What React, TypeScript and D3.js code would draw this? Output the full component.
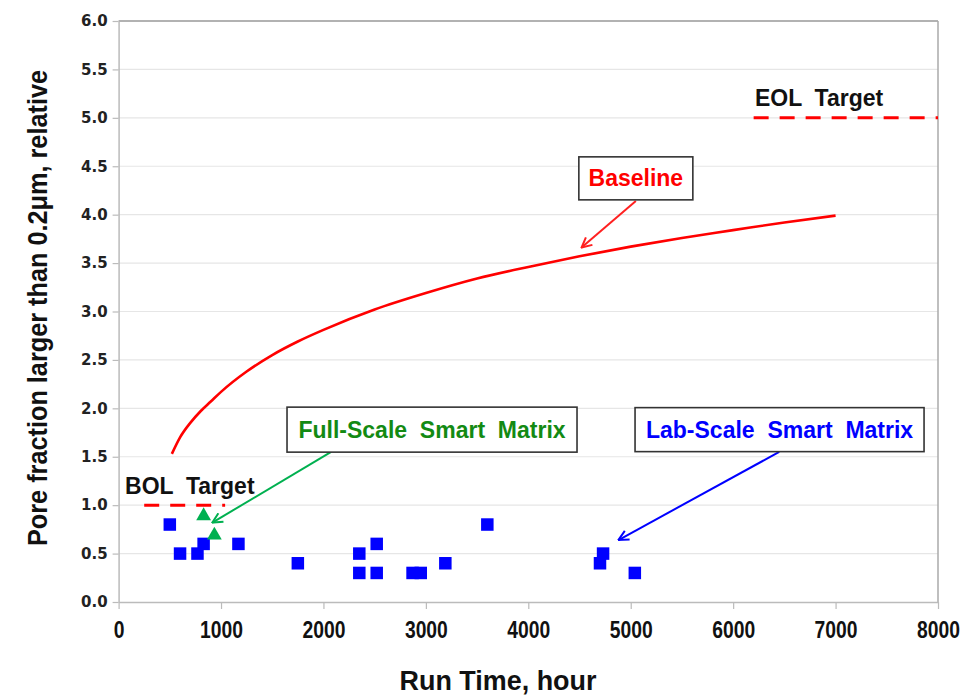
import React, { useEffect, useRef } from "react";
import * as d3 from "d3";

const baselineHours = [520, 600, 700, 800, 900, 1000, 1250, 1500, 1750, 2000, 2500, 3000, 3500, 4000, 4500, 5000, 5500, 6000, 6500, 7000];
const baselineValues = [1.53, 1.7, 1.85, 1.97, 2.07, 2.17, 2.38, 2.55, 2.69, 2.81, 3.02, 3.19, 3.34, 3.46, 3.57, 3.67, 3.76, 3.84, 3.92, 3.99];

const labHours = [500, 600, 770, 830, 1170, 1750, 2350, 2350, 2520, 2520, 2870, 2950, 3190, 3600, 4700, 4730, 5040];
const labValues = [0.8, 0.5, 0.5, 0.6, 0.6, 0.4, 0.5, 0.3, 0.6, 0.3, 0.3, 0.3, 0.4, 0.8, 0.4, 0.5, 0.3];

const fullHours = [830, 935];
const fullValues = [0.9, 0.7];

const bolTarget = { from: 250, to: 1040, value: 1.0 };
const eolTarget = { from: 6200, to: 8000, value: 5.0 };

const xTicks = [0, 1000, 2000, 3000, 4000, 5000, 6000, 7000, 8000];
const yTicks = [0, 0.5, 1, 1.5, 2, 2.5, 3, 3.5, 4, 4.5, 5, 5.5, 6];

// callouts: box centre and arrow in data units
const callouts = [
  { text: "Baseline", color: "#ff0000", arrow: "#ff2020", cx: 5050, cy: 4.375, w: 114, h: 43, ax: 5050, ay: 4.14, tx: 4520, ty: 3.66 },
  { text: "Full-Scale  Smart  Matrix", color: "#138a13", arrow: "#00b050", cx: 3060, cy: 1.78, w: 290, h: 45, ax: 2075, ay: 1.55, tx: 915, ty: 0.82 },
  { text: "Lab-Scale  Smart  Matrix", color: "#0000ff", arrow: "#0000ff", cx: 6453, cy: 1.78, w: 289, h: 44, ax: 6450, ay: 1.55, tx: 4880, ty: 0.64 },
];

const targetLabels = [
  { text: "EOL  Target", x: 6213, y: 5.12 },
  { text: "BOL  Target", x: 63, y: 1.12 },
];

export default function App() {
  const ref = useRef<SVGSVGElement>(null);

  useEffect(() => {
    const svg = d3.select(ref.current);
    svg.selectAll("*").remove();

    const x = d3.scaleLinear().domain([0, 8000]).range([118.6, 938]);
    const y = d3.scaleLinear().domain([0, 6]).range([602, 21]);

    const defs = svg.append("defs");
    callouts.forEach((c, i) => {
      defs
        .append("marker")
        .attr("id", "arr" + i)
        .attr("viewBox", "0 0 12 12")
        .attr("refX", 11)
        .attr("refY", 6)
        .attr("markerWidth", 12)
        .attr("markerHeight", 12)
        .attr("markerUnits", "userSpaceOnUse")
        .attr("orient", "auto")
        .append("path")
        .attr("d", "M1,1 L11,6 L1,11")
        .attr("fill", "none")
        .attr("stroke", c.arrow)
        .attr("stroke-width", 2);
    });

    // grid
    svg
      .append("g")
      .selectAll("line")
      .data(yTicks.filter(t => t > 0 && t < 6))
      .join("line")
      .attr("x1", x(0))
      .attr("x2", x(8000))
      .attr("y1", d => y(d))
      .attr("y2", d => y(d))
      .attr("stroke", "#e6e6e6")
      .attr("stroke-width", 1.2);

    // frame
    svg.append("line").attr("x1", x(0)).attr("x2", x(8000)).attr("y1", y(6)).attr("y2", y(6)).attr("stroke", "#999").attr("stroke-width", 1.5);
    svg.append("line").attr("x1", x(8000)).attr("x2", x(8000)).attr("y1", y(6)).attr("y2", y(0)).attr("stroke", "#aaa").attr("stroke-width", 1.5);

    // y axis
    const yAxis = svg
      .append("g")
      .attr("transform", `translate(${x(0)},0)`)
      .call(d3.axisLeft(y).tickValues(yTicks).tickFormat(d3.format(".1f")).tickSize(6).tickSizeOuter(0));
    yAxis.select(".domain").attr("stroke", "#bbb").attr("stroke-width", 1.5);
    yAxis.selectAll(".tick line").attr("stroke", "#bbb").attr("stroke-width", 1.2);
    yAxis
      .selectAll(".tick text")
      .attr("x", -11)
      .attr("fill", "#222")
      .style("font-family", "'DejaVu Sans', Verdana, sans-serif")
      .style("font-weight", "bold")
      .style("font-size", "15px");

    // x axis (condensed look)
    const xAxis = svg
      .append("g")
      .attr("transform", `translate(0,${y(0)})`)
      .call(d3.axisBottom(x).tickValues(xTicks).tickFormat(d3.format("d")).tickSize(7).tickSizeOuter(0));
    xAxis.select(".domain").attr("stroke", "#bbb").attr("stroke-width", 1.5);
    xAxis.selectAll(".tick line").attr("stroke", "#bbb").attr("stroke-width", 1.2);
    xAxis
      .selectAll(".tick text")
      .attr("y", 20)
      .attr("transform", "scale(0.84,1)")
      .attr("fill", "#111")
      .style("font-family", "'Liberation Sans', Arial, sans-serif")
      .style("font-weight", "bold")
      .style("font-size", "23px");

    // axis titles
    svg
      .append("text")
      .attr("x", 498)
      .attr("y", 690)
      .attr("text-anchor", "middle")
      .attr("textLength", 197)
      .attr("lengthAdjust", "spacingAndGlyphs")
      .style("font-family", "'Liberation Sans', sans-serif")
      .style("font-weight", "bold")
      .style("font-size", "27px")
      .attr("fill", "#111")
      .text("Run Time, hour");

    svg
      .append("text")
      .attr("transform", "translate(47,308) rotate(-90)")
      .attr("text-anchor", "middle")
      .attr("textLength", 476)
      .attr("lengthAdjust", "spacingAndGlyphs")
      .style("font-family", "'Liberation Sans', sans-serif")
      .style("font-weight", "bold")
      .style("font-size", "27px")
      .attr("fill", "#111")
      .text("Pore fraction larger than 0.2μm, relative");

    // targets
    [bolTarget, eolTarget].forEach(t => {
      svg
        .append("line")
        .attr("x1", x(t.from))
        .attr("x2", x(t.to))
        .attr("y1", y(t.value))
        .attr("y2", y(t.value))
        .attr("stroke", "#ff0000")
        .attr("stroke-width", 3)
        .attr("stroke-dasharray", "15 11");
    });

    svg
      .selectAll(".tlabel")
      .data(targetLabels)
      .join("text")
      .attr("x", d => x(d.x))
      .attr("y", d => y(d.y))
      .style("font-family", "'Liberation Sans', Arial, sans-serif")
      .style("font-weight", "bold")
      .style("font-size", "23px")
      .style("white-space", "pre")
      .attr("fill", "#111")
      .text(d => d.text);

    // baseline curve
    const line = d3
      .line<number>()
      .x((d, i) => x(baselineHours[i]))
      .y(d => y(d))
      .curve(d3.curveMonotoneX);
    svg
      .append("path")
      .attr("d", line(baselineValues))
      .attr("fill", "none")
      .attr("stroke", "#ff0000")
      .attr("stroke-width", 2.6);

    // lab-scale squares
    const sq = 12.5;
    svg
      .append("g")
      .selectAll("rect")
      .data(labHours)
      .join("rect")
      .attr("x", d => x(d) - sq / 2)
      .attr("y", (d, i) => y(labValues[i]) - sq / 2)
      .attr("width", sq)
      .attr("height", sq)
      .attr("fill", "#0000ff");

    // full-scale triangles
    const tri = d3.symbol().type(d3.symbolTriangle).size(95);
    svg
      .append("g")
      .selectAll("path")
      .data(fullHours)
      .join("path")
      .attr("transform", (d, i) => `translate(${x(d)},${y(fullValues[i]) + 1})`)
      .attr("d", tri())
      .attr("fill", "#00b050");

    // callouts
    callouts.forEach((c, i) => {
      svg
        .append("line")
        .attr("x1", x(c.ax))
        .attr("y1", y(c.ay))
        .attr("x2", x(c.tx))
        .attr("y2", y(c.ty))
        .attr("stroke", c.arrow)
        .attr("stroke-width", 2)
        .attr("marker-end", `url(#arr${i})`);
      svg
        .append("rect")
        .attr("x", x(c.cx) - c.w / 2)
        .attr("y", y(c.cy) - c.h / 2)
        .attr("width", c.w)
        .attr("height", c.h)
        .attr("fill", "#fff")
        .attr("stroke", "#333")
        .attr("stroke-width", 1.6);
      svg
        .append("text")
        .attr("x", x(c.cx))
        .attr("y", y(c.cy) + 8)
        .attr("text-anchor", "middle")
        .style("font-family", "'Liberation Sans', Arial, sans-serif")
        .style("font-weight", "bold")
        .style("font-size", "23px")
        .style("white-space", "pre")
        .attr("fill", c.color)
        .text(c.text);
    });
  }, []);

  return (
    <svg
      ref={ref}
      width={966}
      height={698}
      style={{ position: "absolute", left: 0, top: 0, background: "#fff" }}
    />
  );
}
